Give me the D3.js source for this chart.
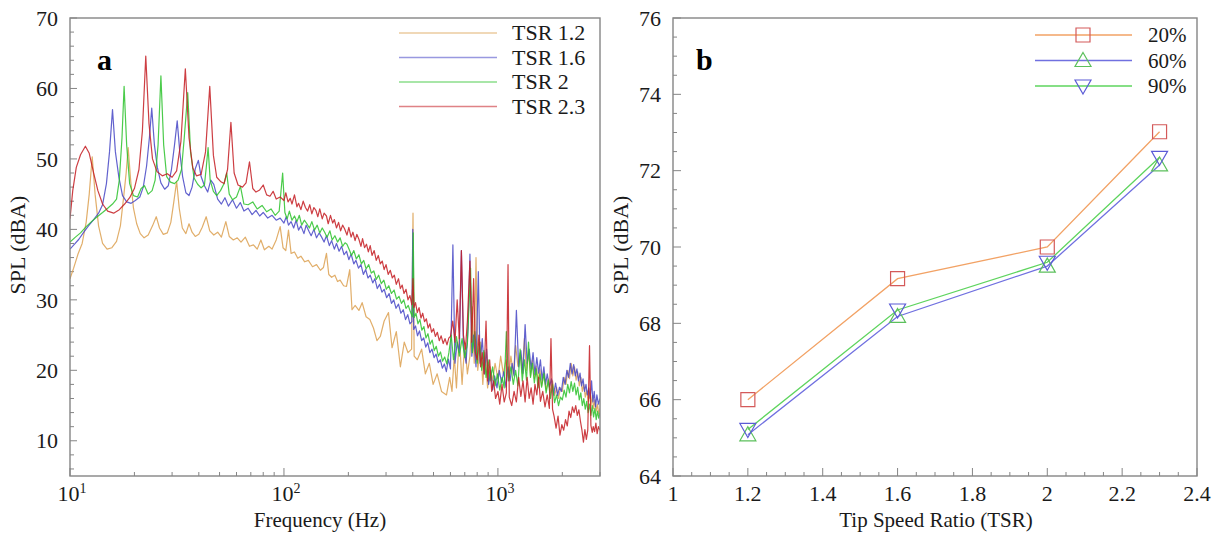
<!DOCTYPE html>
<html>
<head>
<meta charset="utf-8">
<script src="https://d3js.org/d3.v7.min.js"></script>
<style>
  body { margin: 0; background: #fff; }
</style>
</head>
<body>
<script>
// ---- panel a : SPL spectra, [frequency Hz, SPL dBA] ----
var tsr12 = [
[10,33],[10.4,34.5],[10.9,36.5],[11.4,38],[11.9,41],[12.3,45],[12.7,50.3],[13.1,45],[13.6,40.5],[14.2,38],[14.9,37.2],[15.7,37.4],[16.5,38.3],[17.2,40.5],[17.8,44.5],[18.3,48],[18.7,51.6],[19.2,47],[19.8,43],[20.5,40.8],[21.3,39.4],[22.2,38.8],[23.2,39.2],[24.3,40.5],[25.3,41.8],[26.2,40.2],[27.3,39.3],[28.5,39.5],[29.6,41],[30.6,44],[31.5,46.8],[32.4,43],[33.5,40.2],[34.8,39.4],[36,40.8],[37.2,39.6],[38.5,39],[40,39.3],[41.5,40.3],[43.3,41.8],[45,39.8],[47,39.2],[49,39.6],[51,38.9],[53.5,41.1],[55.5,39],[58,38.5],[60.5,38.8],[63,38.2],[66,38.9],[69,37.6],[72,37.8],[75,37.2],[78,38.5],[81,37.1],[85,37.6],[88,37.2],[92,38.5],[96,40.4],[99,37.4],[102,37],[105,39.9],[108,36.6],[112,36.8],[116,35.9],[120,36.2],[125,35.4],[130,35.6],[136,34.7],[142,35],[148,34.2],[153,34.6],[158,36.6],[162,33.6],[167,33.2],[173,33.5],[178,32.6],[183,32.8],[190,32],[196,31.9],[203,34.3],[208,28.6],[215,29.2],[224,28.5],[232,29.6],[242,27.6],[252,27.2],[262,26],[272,24.2],[282,24.8],[294,27],[308,28.2],[320,23.2],[335,25.5],[350,20.5],[365,24],[380,22.5],[395,23],[401,42.3],[406,22],[420,21.5],[440,23],[458,19.5],[478,21],[498,18],[520,19.5],[545,17],[575,16.5],[595,19],[610,17],[625,22],[640,17.5],[660,25],[680,18],[700,24],[720,19.5],[740,22],[760,29],[775,21],[790,36],[805,20],[830,24],[850,18],[870,22.5],[895,17.5],[920,20.5],[945,18.5],[970,21],[1000,18.8],[1030,22],[1060,19.5],[1090,21.5],[1120,19],[1150,22],[1180,19.5],[1210,23.5],[1240,20.6],[1270,22.5],[1300,19.6],[1330,24.5],[1360,20],[1390,22.5],[1420,19.2],[1450,21.5],[1480,18.8],[1510,20.6],[1540,18.5],[1570,20.2],[1600,17.8],[1640,19.5],[1680,17.2],[1720,18.8],[1760,16.8],[1800,18.5],[1840,16.4],[1880,17.6],[1920,16],[1960,17.5],[2000,17],[2040,19],[2080,18],[2120,20],[2160,18.8],[2200,21],[2240,19.2],[2280,20.5],[2320,18.6],[2360,19.8],[2400,17.8],[2440,19],[2480,17],[2520,18],[2560,16.2],[2600,17.2],[2640,15.6],[2680,16.8],[2720,15],[2760,16.4],[2800,14.6],[2840,15.8],[2880,14.2],[2920,15.2],[2960,13.8],[3000,14.6]
];
var tsr16 = [
[10,37.2],[10.5,37.9],[11,38.6],[11.6,39.6],[12.2,40.5],[12.9,41.4],[13.6,42.3],[14.2,43.5],[14.8,46.5],[15.3,51],[15.8,57],[16.3,51],[16.9,47.5],[17.6,44.8],[18.4,43.9],[19.3,43.7],[20.2,44.1],[21.2,44.6],[22,46],[22.8,49],[23.5,53],[24.1,57.2],[24.8,52],[25.6,48.8],[26.6,46.6],[27.7,45.7],[28.8,46.2],[29.8,48.5],[30.8,52],[31.7,55.4],[32.6,51],[33.6,47.5],[34.8,45.2],[36,44.8],[37.2,46],[38.5,48.6],[39.8,49.8],[41,47.5],[42.5,46.2],[44,45.3],[45.5,47],[47,46.4],[49,44.3],[51,43.6],[53,44.5],[55,43.3],[57.5,44.2],[60,43],[62.5,43.8],[65,42.6],[68,43],[71,42.1],[74,42.7],[77,41.9],[80,42.4],[84,41.6],[88,42],[92,41.3],[96,41.6],
[100,40.9],[102.5,41.8],[105,40.6],[108,41.1],[111,40.2],[114,41.3],[117,39.9],[120,40.5],[124,39.4],[127,40.6],[131,39.7],[134,39.1],[138,40],[142,38.8],[146,39.5],[150,38.9],[154,38.2],[158,39.1],[163,37.7],[167,38.4],[172,37.2],[176,38],[181,36.9],[186,37.6],[191,36.4],[196,36.9],[201,35.7],[206,36.5],[212,35.1],[217,35.6],[223,34.5],[229,35],[235,33.6],[241,34.3],[247,33.1],[253,33.5],[260,32.4],[266,33],[273,31.6],[280,32.2],[287,31.1],[294,31.5],[302,30.3],[310,30.9],[318,29.5],[326,30],[334,28.8],[343,29.4],[352,28.1],[361,28.6],[370,27.2],[379,27.9],[388,26.6],[396,26.9],[400,40],[404,25.8],[412,26.3],[421,24.9],[430,25.6],[440,24.2],[450,24.6],[460,23.3],[470,23.9],[481,22.5],[492,23],[503,21.8],[514,22.3],[526,21.1],[538,21.5],[550,20.3],[562,20.9],[574,19.8],[587,21.6],[600,20.2],
[616,37.8],[630,21],[645,24],[660,22.5],[675,37],[690,23.5],[710,21],[725,26],[740,36.5],[755,22],[770,25],[790,20.5],[810,34],[825,21],[845,24.5],[865,19.5],[885,23],[905,18],[925,20],[945,17.2],[965,19.2],[990,17.5],[1015,20],[1040,18.2],[1065,19.8],[1090,17.6],[1115,20.5],[1140,18.5],[1165,21],[1190,19.2],[1220,28.5],[1250,20.5],[1280,22.8],[1310,19.6],[1340,26.5],[1370,21],[1400,23],[1430,20.2],[1460,22.5],[1490,19.4],[1520,21.8],[1550,19.6],[1580,21.5],[1610,18.6],[1640,20.5],[1670,18],[1700,19.5],[1740,17.6],[1780,18.8],[1820,16.5],[1860,18.2],[1900,16.4],[1940,17.6],[1980,17],[2020,19],[2060,18],[2100,20],[2140,19],[2180,21],[2220,19.5],[2260,20.8],[2300,19.2],[2340,20.2],[2380,18.5],[2420,19.6],[2460,17.8],[2500,18.8],[2540,17],[2580,18],[2620,16.5],[2660,17.5],[2700,16],[2740,18.5],[2780,15.5],[2820,17],[2860,14.8],[2900,16.5],[2950,15.2],[3000,16]
];
var tsr20 = [
[10,38.2],[10.6,38.9],[11.2,39.5],[11.9,40.4],[12.6,41.1],[13.4,41.8],[14.2,42.4],[15,43],[15.8,43.6],[16.5,44.3],[17,47],[17.5,53],[17.9,60.3],[18.4,52],[19,46.5],[19.8,44.8],[20.7,44.6],[21.5,45.8],[22.3,46.2],[23.2,45],[24.2,45.5],[25,47],[25.8,52],[26.6,61.8],[27.4,52],[28.3,47.5],[29.5,46.7],[30.8,46.5],[32,47],[33.2,48.5],[34.2,53],[35.5,59.4],[36.6,51],[38,47.3],[39.5,46.4],[41,45.9],[42.5,46.3],[43.4,49],[44.2,51.6],[45.2,47],[46.8,45.4],[48.5,44.8],[50.5,45.5],[52.5,46.5],[54,48],[55.5,45],[57.5,44.2],[60,44.6],[62.6,46.1],[65,43.6],[68,43.5],[71.5,43.9],[75,42.9],[79,43.4],[83,42.5],[87,42.9],[91,42],[95,42.6],
[98.6,48],[101,42.4],[103.5,41.5],[106,42.6],[109,41.3],[112,41.9],[115,41.1],[118,42],[121,40.6],[124.5,41.3],[128,40.8],[131.5,40.2],[135,41.1],[139,39.9],[143,40.6],[147,39.5],[151,40.2],[155,39.6],[159,38.9],[164,39.8],[168,38.5],[173,39.1],[178,38.2],[183,38.8],[188,37.6],[193,38.1],[197,37.9],[202,37.1],[207,36.3],[212,37],[218,35.8],[224,36.4],[230,35.1],[236,35.6],[242,34.4],[249,35],[256,33.8],[263,34.1],[270,32.9],[277,33.5],[285,32.3],[293,32.8],[301,31.5],[309,32],[318,30.9],[327,31.4],[336,30.1],[345,30.5],[354,29.5],[363,30],[372,28.8],[381,29.2],[390,28.3],[398,27.6],[402,39.5],[406,27.5],[414,28.1],[423,26.6],[432,27.2],[441,25.7],[451,26.2],[461,24.6],[471,25.2],[482,23.7],[493,24.3],[504,22.8],[515,23.4],[527,22],[539,22.6],[551,21.3],[564,21.9],[577,20.9],[590,22.5],
[605,25],[620,21.5],[640,24.8],[660,22],[680,24.5],[700,21.8],[720,23.8],[745,34.5],[760,22.5],[780,25.5],[800,21],[820,24],[840,20],[860,22.8],[880,19],[900,21.5],[920,18.5],[945,20.5],[970,17.8],[995,19.5],[1020,17.2],[1045,19],[1070,17.5],[1095,25.5],[1120,18.5],[1150,20.5],[1180,18],[1210,20],[1240,17.8],[1270,23],[1300,18.5],[1330,21.5],[1360,18.6],[1390,24],[1420,19],[1450,21],[1480,18.2],[1510,20.2],[1540,17.5],[1570,19.5],[1600,17.6],[1640,19.6],[1680,16.8],[1720,18.6],[1760,16],[1800,18],[1840,15.4],[1880,16.5],[1920,15],[1960,16.2],[2000,15.8],[2040,17.2],[2080,16.2],[2120,18],[2160,16.8],[2200,18.4],[2240,17],[2280,18.2],[2320,16.5],[2360,17.6],[2400,15.8],[2440,16.8],[2480,15],[2520,16],[2560,14.5],[2600,15.6],[2640,14],[2680,15.2],[2720,13.6],[2760,15],[2800,13.4],[2840,14.6],[2880,13],[2920,14.2],[2960,13.2],[3000,14]
];
var tsr23 = [
[10,41.5],[10.3,45.5],[10.7,48.8],[11.2,50.6],[11.8,51.8],[12.3,50.8],[12.9,48],[13.5,45.5],[14.2,43.6],[15,42.6],[16,42.3],[17,42.8],[18,43.6],[19,44.5],[20,45.8],[21,48.5],[21.8,54],[22.6,64.6],[23.4,55],[24.3,50],[25.5,48.2],[27,47.6],[28.5,47.9],[30,47.4],[31.5,48.3],[33,52.5],[34.6,62.8],[36,53],[37.5,48.7],[39,47.6],[41,47.8],[43,51],[45,60.3],[46.8,50.5],[48.5,47.4],[50.5,46.8],[52.5,46.5],[54.5,48.5],[56.5,55.2],[58.5,48],[61,46.3],[64,46],[66.5,46.6],[69,49.6],[71.5,45.8],[74,45.3],[77,45.6],[80,46.3],[83,44.9],[86,44.7],[89,45.4],[92,44.3],[96,44.6],
[100,44.1],[102,45.2],[104.5,43.9],[107,44.4],[109,43.6],[112,44.9],[115,43.2],[117,43.7],[120,42.8],[123,44],[126,43.1],[129,42.6],[132,43.5],[135,42.2],[138,43.1],[141,42.7],[144,41.8],[147,42.9],[151,41.5],[154,42.3],[158,41.9],[161,40.8],[165,42],[169,40.9],[172,41.4],[176,40.2],[180,41],[184,39.8],[188,40.6],[192,40.1],[197,39.2],[201,40.3],[206,38.9],[210,39.6],[215,38.4],[219,39.3],[224,38.6],[229,37.6],[233,38.7],[238,37.4],[243,37.9],[248,36.8],[253,37.7],[258,36.3],[264,37],[270,35.6],[276,36.3],[282,35.1],[288,35.5],[294,34.3],[300,35],[307,33.6],[314,34.2],[321,33.1],[328,33.5],[335,32.2],[343,33],[350,31.6],[357,32.1],[364,30.9],[372,31.5],[380,30],[388,30.6],[396,29.3],[401,33],[405,28.9],[412,29.6],[420,28.2],[428,28.9],[437,27.4],[445,28.1],[454,26.9],[463,27.3],[472,26],[481,26.6],[490,25.4],[500,25.9],[510,24.8],[521,25.4],[532,24.2],[543,24.9],[555,23.8],[566,24.5],[578,23.6],[590,24.6],[600,24.8],
[615,27],[630,24],[645,30],[660,24.5],[675,37],[690,25],[705,23],[720,27],[740,35.5],[755,24],[770,33],[785,22.5],[800,21.5],[815,25],[830,20.5],[845,22.5],[862,19.5],[880,27],[895,18.5],[915,21.5],[935,17],[955,18.5],[975,16],[1000,17],[1020,15.2],[1045,18],[1070,15.5],[1095,16.8],[1115,35],[1130,16.2],[1160,15],[1190,17],[1220,15.5],[1250,19],[1280,16.3],[1310,18.5],[1340,15.5],[1370,19],[1400,16],[1430,17.5],[1460,15.2],[1490,18],[1520,16.5],[1550,19],[1580,15.6],[1620,17],[1660,14.8],[1700,16.5],[1740,14.6],[1770,24.5],[1800,14.5],[1830,13.5],[1870,11.8],[1910,13.5],[1950,10.8],[1990,12.3],[2030,11.5],[2070,13],[2110,12.1],[2150,14.2],[2190,13.3],[2230,14.8],[2270,14],[2310,15],[2350,13.6],[2390,14.4],[2430,12.8],[2470,11.5],[2510,9.8],[2550,11.6],[2590,10.2],[2630,11.5],[2680,23.5],[2720,12.2],[2760,11.2],[2790,12],[2830,11.3],[2870,12.5],[2910,11],[2950,12],[3000,11.5]
];
var spectraNames = ["TSR 1.2", "TSR 1.6", "TSR 2", "TSR 2.3"];

// ---- panel b : overall SPL vs TSR ----
var tsrVals = [1.2, 1.6, 2.0, 2.3];
var spl20 = [66.0, 69.17, 70.0, 73.02];
var spl60 = [65.08, 68.18, 69.5, 72.15];
var spl90 = [65.22, 68.35, 69.6, 72.35];
var pctNames = ["20%", "60%", "90%"];

var serif = "'Liberation Serif', 'Times New Roman', Times, serif";

var svg = d3.select("body").append("svg")
    .attr("width", 1221)
    .attr("height", 535)
    .attr("font-family", serif)
    .style("font-family", serif);

var frameColor = "#858585";
var textColor = "#1a1a1a";
var tickFont = 22;

// ================= panel a =================
var xa = d3.scaleLog().domain([10, 3000]).range([70, 600]);
var ya = d3.scaleLinear().domain([5, 70]).range([476, 18]);

svg.append("clipPath").attr("id", "clipA")
  .append("rect").attr("x", 70).attr("y", 18).attr("width", 530).attr("height", 458);

var ga = svg.append("g");

// ticks (inside)
for (var v = 6; v <= 70; v += 2) {
  var len = (v % 10 === 0) ? 7 : 4;
  ga.append("line").attr("x1", 70).attr("x2", 70 + len)
    .attr("y1", ya(v)).attr("y2", ya(v))
    .attr("stroke", frameColor).attr("stroke-width", 1);
}
[10, 100, 1000].forEach(function(dec) {
  for (var m = 1; m <= 9; m++) {
    var f = m * dec;
    if (f > 3000) break;
    var l = (m === 1) ? 8 : 4;
    ga.append("line").attr("x1", xa(f)).attr("x2", xa(f))
      .attr("y1", 476).attr("y2", 476 - l)
      .attr("stroke", frameColor).attr("stroke-width", 1);
  }
});

// y tick labels
d3.range(10, 71, 10).forEach(function(v) {
  ga.append("text").attr("x", 58).attr("y", ya(v)).attr("dy", "0.35em")
    .attr("text-anchor", "end").attr("font-size", tickFont).attr("fill", textColor).text(v);
});
// x tick labels with superscripts
[[10, "1"], [100, "2"], [1000, "3"]].forEach(function(d) {
  var t = ga.append("text").attr("x", xa(d[0]) + 2).attr("y", 501)
    .attr("text-anchor", "middle").attr("font-size", tickFont).attr("fill", textColor);
  t.append("tspan").text("10");
  t.append("tspan").attr("dy", -8).attr("font-size", 14).text(d[1]);
});

ga.append("text").attr("x", 320).attr("y", 527).attr("text-anchor", "middle")
  .attr("font-size", 21).attr("fill", textColor).text("Frequency (Hz)");
ga.append("text").attr("transform", "translate(25,245) rotate(-90)")
  .attr("text-anchor", "middle").attr("font-size", 22).attr("fill", textColor).text("SPL (dBA)");

var colorsA = ["#dca050", "#4646c6", "#2bc22b", "#c41c22"];
var lineA = d3.line().x(function(d) { return xa(d[0]); }).y(function(d) { return ya(d[1]); });

var plotA = ga.append("g").attr("clip-path", "url(#clipA)");
[tsr12, tsr16, tsr20, tsr23].forEach(function(s, i) {
  plotA.append("path").datum(s).attr("d", lineA)
    .attr("fill", "none").attr("stroke", colorsA[i])
    .attr("stroke-width", 1.2).attr("stroke-opacity", 0.85)
    .attr("stroke-linejoin", "round");
});

ga.append("rect").attr("x", 70).attr("y", 18).attr("width", 530).attr("height", 458)
  .attr("fill", "none").attr("stroke", frameColor).attr("stroke-width", 1.4);

ga.append("text").attr("x", 97).attr("y", 70).attr("font-size", 30)
  .attr("font-weight", "bold").attr("fill", "#000").text("a");

// legend a
spectraNames.forEach(function(n, i) {
  var y = 33 + i * 24.5;
  ga.append("line").attr("x1", 399).attr("x2", 497).attr("y1", y).attr("y2", y)
    .attr("stroke", colorsA[i]).attr("stroke-opacity", 0.55).attr("stroke-width", 1.3);
  ga.append("text").attr("x", 512).attr("y", y + 7).attr("font-size", 22)
    .attr("fill", textColor).text(n);
});

// ================= panel b =================
var xb = d3.scaleLinear().domain([1, 2.4]).range([673, 1197]);
var yb = d3.scaleLinear().domain([64, 76]).range([476, 18]);
var gb = svg.append("g");

d3.range(0, 29).forEach(function(i) {
  var v = 1 + i * 0.05;
  var l = (i % 4 === 0) ? 8 : 4;
  gb.append("line").attr("x1", xb(v)).attr("x2", xb(v))
    .attr("y1", 476).attr("y2", 476 - l)
    .attr("stroke", frameColor).attr("stroke-width", 1);
});
d3.range(0, 25).forEach(function(i) {
  var v = 64 + i * 0.5;
  var l = (i % 4 === 0) ? 8 : 4;
  gb.append("line").attr("x1", 673).attr("x2", 673 + l)
    .attr("y1", yb(v)).attr("y2", yb(v))
    .attr("stroke", frameColor).attr("stroke-width", 1);
});
d3.range(64, 77, 2).forEach(function(v) {
  gb.append("text").attr("x", 661).attr("y", yb(v)).attr("dy", "0.35em")
    .attr("text-anchor", "end").attr("font-size", tickFont).attr("fill", textColor).text(v);
});
d3.range(0, 8).forEach(function(i) {
  var v = 1 + i * 0.2;
  gb.append("text").attr("x", xb(v)).attr("y", 501).attr("text-anchor", "middle")
    .attr("font-size", tickFont).attr("fill", textColor).text(d3.format("~g")(+v.toFixed(1)));
});
gb.append("text").attr("x", 936).attr("y", 527).attr("text-anchor", "middle")
  .attr("font-size", 21).attr("fill", textColor).text("Tip Speed Ratio (TSR)");
gb.append("text").attr("transform", "translate(628,245) rotate(-90)")
  .attr("text-anchor", "middle").attr("font-size", 22).attr("fill", textColor).text("SPL (dBA)");

var lineColB = ["#f2a265", "#7070e0", "#5ed45e"];
var markColB = ["#d45a5a", "#5cc05c", "#5b5bd6"];
var shapes = ["square", "up", "down"];

function marker(g, shape, x, y, col) {
  var s = 7;
  var d;
  if (shape === "square") d = "M" + (x - s) + "," + (y - s) + "h" + 2 * s + "v" + 2 * s + "h" + (-2 * s) + "Z";
  else if (shape === "up") d = "M" + x + "," + (y - s - 1) + "L" + (x + s + 1) + "," + (y + s - 1) + "L" + (x - s - 1) + "," + (y + s - 1) + "Z";
  else d = "M" + x + "," + (y + s + 1) + "L" + (x + s + 1) + "," + (y - s + 1) + "L" + (x - s - 1) + "," + (y - s + 1) + "Z";
  g.append("path").attr("d", d).attr("fill", "none").attr("stroke", col).attr("stroke-width", 1.2);
}

var lineB = d3.line().x(function(d) { return xb(d[0]); }).y(function(d) { return yb(d[1]); });
[spl20, spl60, spl90].forEach(function(s, i) {
  var pts = tsrVals.map(function(t, j) { return [t, s[j]]; });
  gb.append("path").datum(pts).attr("d", lineB).attr("fill", "none")
    .attr("stroke", lineColB[i]).attr("stroke-width", 1.3);
});
[spl20, spl60, spl90].forEach(function(s, i) {
  tsrVals.forEach(function(t, j) {
    marker(gb, shapes[i], xb(t), yb(s[j]), markColB[i]);
  });
});

gb.append("rect").attr("x", 673).attr("y", 18).attr("width", 524).attr("height", 458)
  .attr("fill", "none").attr("stroke", frameColor).attr("stroke-width", 1.4);

gb.append("text").attr("x", 696).attr("y", 70).attr("font-size", 30)
  .attr("font-weight", "bold").attr("fill", "#000").text("b");

pctNames.forEach(function(n, i) {
  var y = 35 + i * 25.5;
  gb.append("line").attr("x1", 1035).attr("x2", 1132).attr("y1", y).attr("y2", y)
    .attr("stroke", lineColB[i]).attr("stroke-width", 1.3);
  marker(gb, shapes[i], 1083, y, markColB[i]);
  gb.append("text").attr("x", 1148).attr("y", y + 7).attr("font-size", 21)
    .attr("fill", textColor).text(n);
});
</script>
</body>
</html>
